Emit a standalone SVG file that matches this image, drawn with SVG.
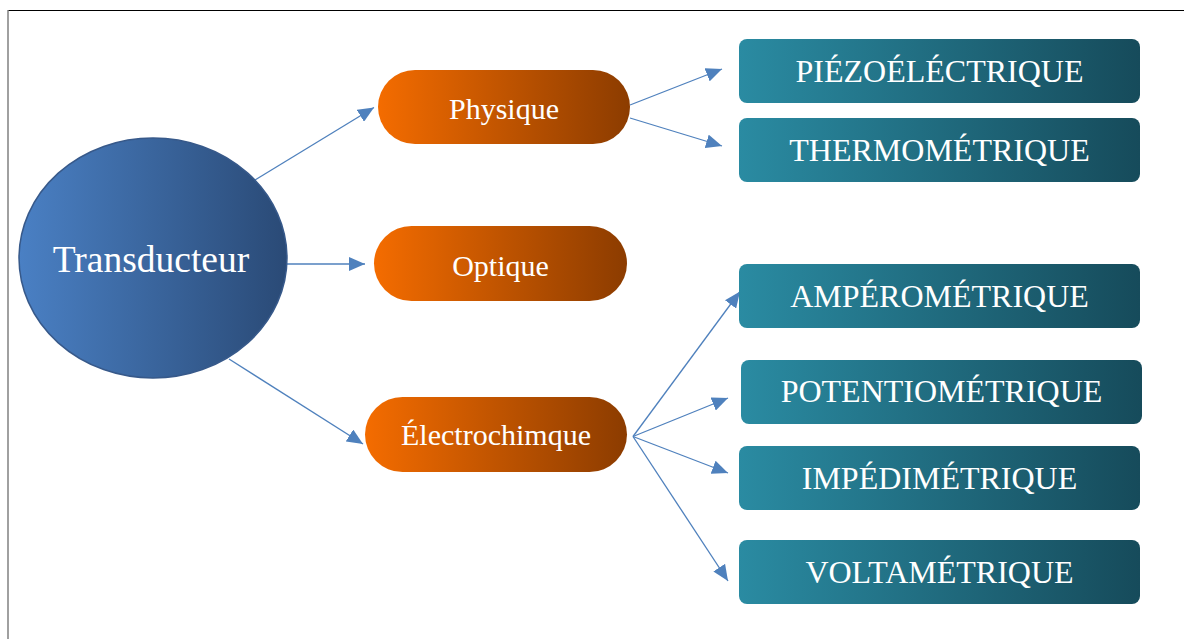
<svg xmlns="http://www.w3.org/2000/svg" width="1184" height="639" viewBox="0 0 1184 639">
<defs>
<linearGradient id="gBlue" x1="0" y1="0" x2="1" y2="0"><stop offset="0" stop-color="#4a80c4"/><stop offset="1" stop-color="#2a4a76"/></linearGradient>
<linearGradient id="gOrange" x1="0" y1="0" x2="1" y2="0"><stop offset="0" stop-color="#f46c00"/><stop offset="1" stop-color="#8c3c00"/></linearGradient>
<linearGradient id="gTeal" x1="0" y1="0" x2="1" y2="0"><stop offset="0" stop-color="#2a8ba2"/><stop offset="1" stop-color="#164b5b"/></linearGradient>
<marker id="arr" markerUnits="userSpaceOnUse" markerWidth="17" markerHeight="14" refX="16" refY="7" orient="auto"><path d="M0,0 L16,7 L0,14 Z" fill="#4f81bd"/></marker>
<style>
.conn{stroke:#4f81bd;stroke-width:1.3;fill:none;marker-end:url(#arr)}
.pill{fill:url(#gOrange)}
.box{fill:url(#gTeal)}
.t{font-family:"Liberation Serif","Times New Roman",serif;fill:#ffffff;text-anchor:middle}
.ot{font-size:30px}
.tt{font-size:32px}
</style>
</defs>
<rect width="1184" height="639" fill="#ffffff"/>
<line x1="8" y1="10.5" x2="1184" y2="10.5" stroke="#000" stroke-width="1"/>
<line x1="8" y1="10" x2="8" y2="639" stroke="#808080" stroke-width="1.5"/>
<g id="connectors">
<line class="conn" x1="255" y1="180" x2="374" y2="107.5"/>
<line class="conn" x1="287" y1="264" x2="365" y2="264"/>
<line class="conn" x1="229" y1="359" x2="363" y2="444"/>
<line class="conn" x1="630" y1="105" x2="722" y2="69"/>
<line class="conn" x1="630" y1="118" x2="722" y2="146"/>
<line class="conn" x1="633" y1="436.5" x2="740" y2="291.5"/>
<line class="conn" x1="633" y1="436.5" x2="728" y2="398"/>
<line class="conn" x1="633" y1="436.5" x2="728" y2="473"/>
<line class="conn" x1="633" y1="436.5" x2="728" y2="581"/>
</g>
<g id="transducteur">
<ellipse cx="153" cy="258" rx="134" ry="120" fill="url(#gBlue)" stroke="#37598a" stroke-width="1.5"/>
<text class="t" x="151" y="272" font-size="37.5">Transducteur</text>
</g>
<g id="physique">
<rect class="pill" x="378" y="70" width="252" height="74" rx="37"/>
<text class="t ot" x="504" y="119">Physique</text>
</g>
<g id="optique">
<rect class="pill" x="374" y="226" width="253" height="75" rx="37.5"/>
<text class="t ot" x="500.5" y="276">Optique</text>
</g>
<g id="electrochimque">
<rect class="pill" x="365" y="397" width="262" height="75" rx="37.5"/>
<text class="t ot" x="496" y="445">Électrochimque</text>
</g>
<g id="piezo">
<rect class="box" x="739" y="39" width="401" height="64" rx="8"/>
<text class="t tt" x="939.5" y="82">PIÉZOÉLÉCTRIQUE</text>
</g>
<g id="thermo">
<rect class="box" x="739" y="118" width="401" height="64" rx="8"/>
<text class="t tt" x="939.5" y="161">THERMOMÉTRIQUE</text>
</g>
<g id="ampero">
<rect class="box" x="739" y="264" width="401" height="64" rx="8"/>
<text class="t tt" x="939.5" y="307">AMPÉROMÉTRIQUE</text>
</g>
<g id="potentio">
<rect class="box" x="741" y="360" width="401" height="64" rx="8"/>
<text class="t tt" x="941.5" y="402">POTENTIOMÉTRIQUE</text>
</g>
<g id="impedi">
<rect class="box" x="739" y="446" width="401" height="64" rx="8"/>
<text class="t tt" x="939.5" y="489">IMPÉDIMÉTRIQUE</text>
</g>
<g id="volta">
<rect class="box" x="739" y="540" width="401" height="64" rx="8"/>
<text class="t tt" x="939.5" y="583">VOLTAMÉTRIQUE</text>
</g>
</svg>
